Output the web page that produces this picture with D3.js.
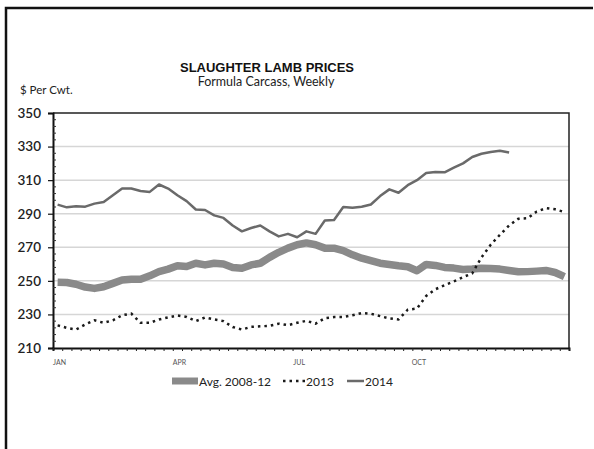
<!DOCTYPE html>
<html>
<head>
<meta charset="utf-8">
<script src="https://cdn.jsdelivr.net/npm/d3@7"></script>
<style>
  body { margin: 0; background: #fff; }
  svg { display: block; font-family: Lato, "Open Sans", sans-serif; }
</style>
</head>
<body>
<div id="chart"></div>
<script>
// weekly prices, $ per cwt
const avg0812 = [249.2, 249, 248, 246.3, 245.5, 246.5, 248.5, 250.5, 251, 251,
  253, 255.5, 257, 259, 258.5, 260.5, 259.5, 260.5, 260, 258,
  257.5, 259.5, 260.5, 264, 267, 269.5, 271.5, 272.6, 271.5, 269.5,
  269.5, 268, 265.5, 263.5, 262, 260.5, 259.8, 259, 258.4, 256,
  259.8, 259.2, 258, 257.6, 256.8, 257, 257.5, 257.3, 257, 256.2,
  255.4, 255.5, 255.8, 256.2, 255, 252.5];

const y2013 = [223.5, 222, 221, 224, 226.5, 225, 226.5, 229.5, 230.5, 225,
  225, 227, 228.2, 229.4, 228.5, 226, 228.2, 227, 226, 222.5,
  221, 222.6, 222.9, 223.2, 224.5, 223.6, 225, 226.2, 224.5, 227.8,
  228.4, 228.4, 229.5, 230.8, 230.4, 229, 227.6, 227, 232.8, 233.5,
  241, 245, 247.4, 249.7, 252.2, 254.5, 264, 271.5, 277.4, 283,
  287, 287.3, 291.3, 293.3, 292.6, 291];

const y2014 = [295.4, 293.8, 294.4, 294.2, 296, 297, 301, 305, 305, 303.5,
  303, 307.4, 305, 301, 297.5, 292.5, 292.2, 289, 287.5, 283,
  279.5, 281.5, 283, 279.5, 276.5, 278, 276, 279.5, 278, 286,
  286.2, 294, 293.5, 294.2, 295.5, 300.5, 304.5, 302.5, 307, 310,
  314.2, 314.9, 314.7, 317.4, 320, 323.8, 325.7, 326.8, 327.5, 326.5];

const nWeeks = 56;
const monthLabels = ['JAN', 'APR', 'JUL', 'OCT'];
const monthWeeks = [0, 13, 26, 39];
const yTicks = [210, 230, 250, 270, 290, 310, 330, 350];

const width = 594, height = 449;
const margin = { top: 113, right: 25, bottom: 101, left: 53 };
const plotW = width - margin.left - margin.right;
const plotH = height - margin.top - margin.bottom;

const svg = d3.select('#chart').append('svg')
    .attr('width', width)
    .attr('height', height);

// outer frame (top and left edges only visible)
svg.append('path')
    .attr('d', `M6,${height} V8 H593`)
    .attr('fill', 'none')
    .attr('stroke', '#111')
    .attr('stroke-width', 2.5);

svg.append('text')
    .attr('x', 267)
    .attr('y', 72)
    .attr('text-anchor', 'middle')
    .style('font-family', '"Liberation Sans", Arial, sans-serif')
    .style('font-size', '13px')
    .style('font-weight', 'bold')
    .attr('fill', '#111')
    .text('SLAUGHTER LAMB PRICES');

svg.append('text')
    .attr('x', 266)
    .attr('y', 86)
    .attr('text-anchor', 'middle')
    .style('font-size', '12.5px')
    .attr('fill', '#222')
    .text('Formula Carcass, Weekly');

svg.append('text')
    .attr('x', 20)
    .attr('y', 94)
    .style('font-size', '11.5px')
    .attr('fill', '#222')
    .text('$ Per Cwt.');

const g = svg.append('g')
    .attr('transform', `translate(${margin.left},${margin.top})`);

const x = d3.scaleLinear().domain([0, nWeeks]).range([0, plotW]);
const y = d3.scaleLinear().domain([210, 350]).range([plotH, 0]);

// gridlines
g.append('g')
    .selectAll('line')
    .data(yTicks.filter(d => d > 210 && d < 350))
    .enter()
    .append('line')
    .attr('x1', 0)
    .attr('x2', plotW)
    .attr('y1', d => y(d))
    .attr('y2', d => y(d))
    .attr('stroke', '#d6d6d6')
    .attr('stroke-width', 1.5);

// plot border top + right
g.append('path')
    .attr('d', `M0,0 H${plotW} V${plotH}`)
    .attr('fill', 'none')
    .attr('stroke', '#222')
    .attr('stroke-width', 1.5);

const line = d3.line()
    .x((d, i) => x(i + 0.5))
    .y(d => y(d));

g.append('path')
    .datum(avg0812)
    .attr('d', line)
    .attr('fill', 'none')
    .attr('stroke', '#8a8a8a')
    .attr('stroke-width', 7.5)
    .attr('stroke-linejoin', 'round');

g.append('path')
    .datum(y2014)
    .attr('d', line)
    .attr('fill', 'none')
    .attr('stroke', '#6a6a6a')
    .attr('stroke-width', 2.5)
    .attr('stroke-linejoin', 'round');

g.append('path')
    .datum(y2013)
    .attr('d', line)
    .attr('fill', 'none')
    .attr('stroke', '#1a1a1a')
    .attr('stroke-width', 2.5)
    .attr('stroke-dasharray', '2.5,4');

// y axis
const yAxis = g.append('g')
    .call(d3.axisLeft(y).tickValues(yTicks).tickSize(5).tickPadding(7));
yAxis.select('.domain').attr('stroke', '#111').attr('stroke-width', 2);
yAxis.selectAll('.tick line').attr('stroke', '#111').attr('stroke-width', 1.2);
yAxis.selectAll('.tick text')
    .style('font-size', '13.5px')
    .style('font-family', 'Lato, "Open Sans", sans-serif')
    .style('font-weight', '600')
    .attr('fill', '#222');

// minor y ticks
g.append('g')
    .selectAll('line')
    .data(d3.range(210, 351, 4).filter(d => (d - 210) % 20 !== 0))
    .enter()
    .append('line')
    .attr('x1', 0)
    .attr('x2', 3)
    .attr('y1', d => y(d))
    .attr('y2', d => y(d))
    .attr('stroke', '#333')
    .attr('stroke-width', 1);

// x axis
const xAxis = g.append('g')
    .attr('transform', `translate(0,${plotH})`)
    .call(d3.axisBottom(x).tickValues(d3.range(0, nWeeks + 1)).tickSize(3).tickFormat(''));
xAxis.select('.domain').attr('stroke', '#111').attr('stroke-width', 2);
xAxis.selectAll('.tick line').attr('stroke', '#222').attr('stroke-width', 1);

g.append('g')
    .selectAll('text')
    .data(monthLabels)
    .enter()
    .append('text')
    .attr('x', (d, i) => x(monthWeeks[i] + 0.5) + 2)
    .attr('y', plotH + 17)
    .attr('text-anchor', 'middle')
    .style('font-size', '7px')
    .attr('fill', '#555')
    .text(d => d);

// legend
const legendItems = [
    { label: 'Avg. 2008-12', x: 172, w: 26, stroke: '#8a8a8a', sw: 7, dash: null },
    { label: '2013', x: 283, w: 22, stroke: '#1a1a1a', sw: 2.5, dash: '2.5,4' },
    { label: '2014', x: 347, w: 17, stroke: '#6a6a6a', sw: 2.5, dash: null }
];
const legend = svg.append('g').attr('class', 'legend');
legendItems.forEach(item => {
    legend.append('line')
        .attr('x1', item.x)
        .attr('x2', item.x + item.w)
        .attr('y1', 381)
        .attr('y2', 381)
        .attr('stroke', item.stroke)
        .attr('stroke-width', item.sw)
        .attr('stroke-dasharray', item.dash);
    legend.append('text')
        .attr('x', item.x + item.w + 1)
        .attr('y', 385.5)
        .style('font-size', '12px')
        .attr('fill', '#222')
        .text(item.label);
});
</script>
</body>
</html>
